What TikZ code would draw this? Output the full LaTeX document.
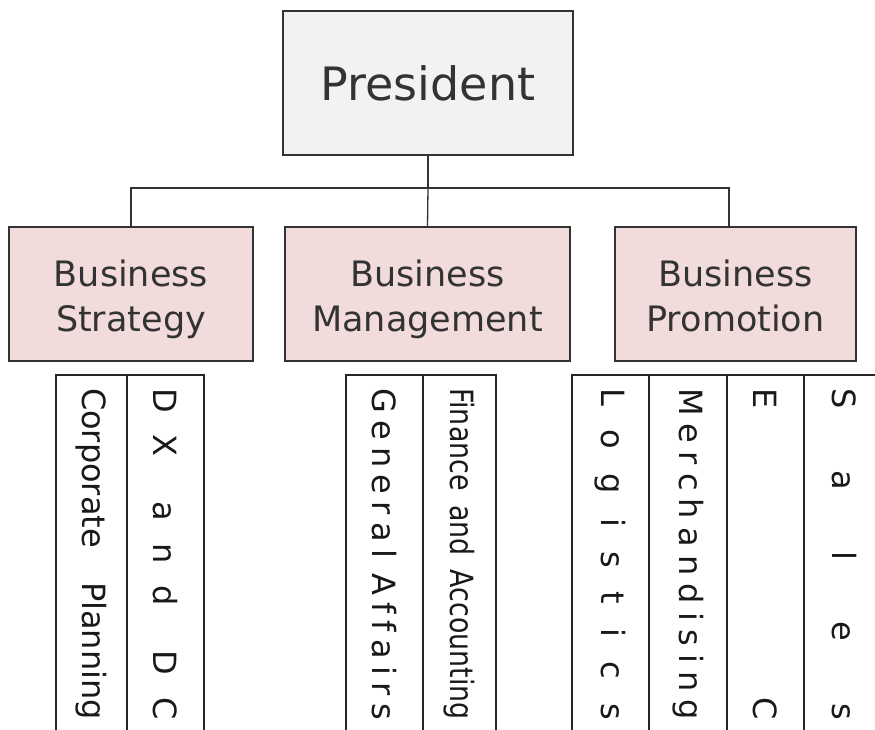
\documentclass[tikz,border=0pt]{standalone}
\usepackage{fontspec}
\setmainfont{DejaVu Sans}
\usepackage{graphicx}

\definecolor{headgray}{HTML}{F2F2F2}
\definecolor{deptpink}{HTML}{F2DCDB}
\definecolor{inkgray}{HTML}{333333}

% letters spread evenly over a given length
\newcommand\spreadtext[2]{\makebox[#1][s]{\foreach \ch [count=\k] in {#2}{\ifnum\k>1\hfill\fi\ch}}}
% two-line division title, sitting a little low in its box
\newcommand\twolines[2]{\rule{0pt}{44pt}#1\\#2\strut}

\begin{document}
\begin{tikzpicture}[x=1pt,y=-1pt,
  head/.style={draw=inkgray,line width=1.5pt,fill=headgray,text=inkgray,minimum width=290pt,minimum height=144pt,font=\fontsize{46}{55}\selectfont},
  dept/.style={draw=inkgray,line width=1.5pt,fill=deptpink,text=inkgray,minimum height=134pt,align=center,font=\fontsize{35}{45}\selectfont},
  unit/.style={draw=black!85,line width=1.3pt,rotate=-90,minimum width=358pt,inner sep=0pt,text=black!90,font=\fontsize{32}{38}\selectfont},
  link/.style={draw=inkgray,line width=1.3pt}]
  \clip (0,0) rectangle (875,730);

  \node[head] (pres) at (428,83) {President};

  \node[dept,minimum width=244pt] (bs) at (131,294) {\twolines{Business}{Strategy}};
  \node[dept,minimum width=285pt] (bm) at (427.5,294) {\twolines{Business}{Management}};
  \node[dept,minimum width=241pt] (bp) at (735.5,294) {\twolines{Business}{Promotion}};

  \coordinate (bus) at (428,188);
  \draw[link] (pres.south) -- (bus);
  \draw[link] (bs.north) |- (bus) -| ([xshift=-6.5pt]bp.north);
  \draw[link] (bus) -- (bm.north);

  % sections under each division
  \node[unit,minimum height=71pt] (cp) at (91.5,554) {\makebox[332pt][s]{Corporate\hfill Planning}};
  \node[unit,minimum height=77pt] (dx) at (165.5,554) {\spreadtext{332pt}{D,X,{},a,n,d,{},D,C}};

  \node[unit,minimum height=77pt] (ga) at (384.5,554) {\spreadtext{332pt}{G,e,n,e,r,a,l,{},A,f,f,a,i,r,s}};
  \node[unit,minimum height=73pt] (fa) at (459.5,554) {\makebox[332pt][s]{\scalebox{0.84}[1]{Finance}\hfill\scalebox{0.84}[1]{and}\hfill\scalebox{0.84}[1]{Accounting}}};

  \node[unit,minimum height=77pt] (lo) at (610.5,554) {\spreadtext{332pt}{L,o,g,i,s,t,i,c,s}};
  \node[unit,minimum height=78pt] (me) at (688,554) {\spreadtext{332pt}{M,e,r,c,h,a,n,d,i,s,i,n,g}};
  \node[unit,minimum height=77pt] (ec) at (765.5,554) {\spreadtext{332pt}{E,C}};
  \node[unit,minimum height=80pt] (sa) at (844,554) {\spreadtext{332pt}{S,a,l,e,s}};
\end{tikzpicture}
\end{document}
